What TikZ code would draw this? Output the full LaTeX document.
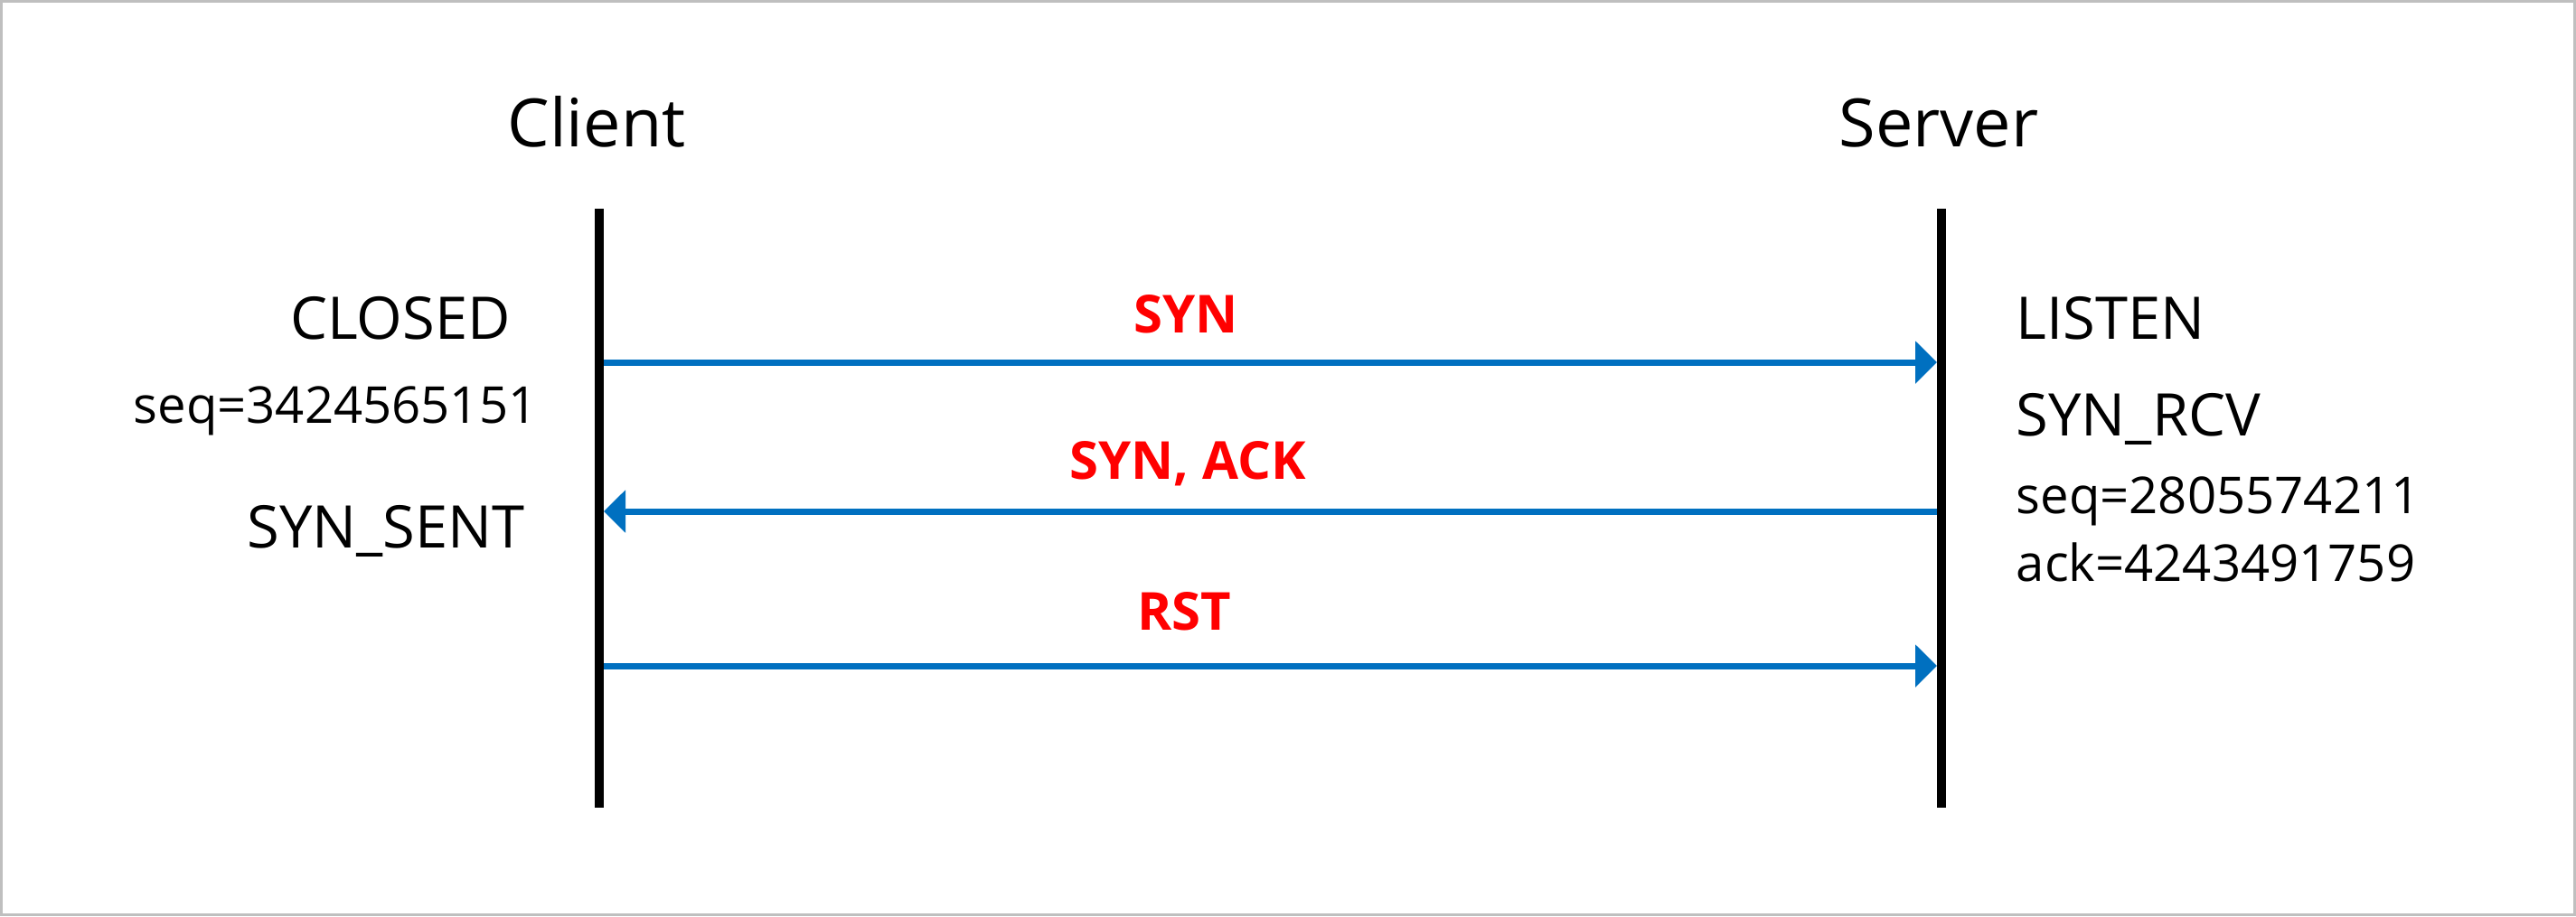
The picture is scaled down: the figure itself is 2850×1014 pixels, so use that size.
\documentclass[tikz,border=0pt]{standalone}
\usepackage{fontspec}
\setmainfont{Open Sans}
\usepackage{tikz}
\usetikzlibrary{calc, positioning}
\usetikzlibrary{arrows.meta}
\definecolor{msgblue}{HTML}{0070C0}
\definecolor{msgred}{HTML}{FF0000}
\definecolor{framegray}{HTML}{BFBFBF}
\tikzset{>={Triangle[length=0.24cm,width=0.46cm]}}
\tikzset{
	lifeline/.style={line width=0.1cm, black},
	msg/.style={->, line width=0.07cm, msgblue},
	host/.style={inner sep=0pt, anchor=base, font=\fontsize{21}{25}\selectfont},
	state/.style={inner sep=0pt, font=\fontsize{18.5}{22}\selectfont},
	seqno/.style={inner sep=0pt, font=\fontsize{16}{19}\selectfont},
	msglabel/.style={inner sep=0pt, anchor=base, text=msgred, font=\bfseries\fontsize{16.5}{20}\selectfont}
}

\begin{document}
\begin{tikzpicture}[x=0.01cm, y=-0.01cm]
	\useasboundingbox (0,0) rectangle (2850,1014);
	\draw [framegray, line width=0.03cm] (1.5,1.5) rectangle (2848.5,1012.5);

	% hosts and lifelines
	\node [host] (client) at (660,162) {Client};
	\node [host] (server) at (2145,162) {Server};
	\coordinate (clienttop) at (663,231);
	\coordinate (clientbot) at (663,894);
	\coordinate (servertop) at (2148,231);
	\coordinate (serverbot) at (2148,894);
	\draw [lifeline] (clienttop) -- (clientbot);
	\draw [lifeline] (servertop) -- (serverbot);

	% client side
	\node [state, anchor=base] (closed) at (443,375) {CLOSED};
	\node [seqno, anchor=base] (cseq) at (371,468) {seq=3424565151};
	\node [state, anchor=base] (synsent) at (427,606) {SYN\_SENT};

	% server side
	\node [state, anchor=base west] (listen) at (2230,375) {LISTEN};
	\node [state, anchor=base west] (synrcv) at (2230,482) {SYN\_RCV};
	\node [seqno, anchor=base west] (sseq) at (2230,568) {seq=2805574211};
	\node [seqno, anchor=base west] (sack) at (2230,643) {ack=4243491759};

	% messages
	\coordinate (c1) at (668,401);
	\coordinate (s1) at (2143,401);
	\coordinate (c2) at (668,566);
	\coordinate (s2) at (2143,566);
	\coordinate (c3) at (668,737);
	\coordinate (s3) at (2143,737);
	\draw [msg] (c1) -- (s1);
	\draw [msg] (s2) -- (c2);
	\draw [msg] (c3) -- (s3);
	\node [msglabel] (syn) at (1312,368) {SYN};
	\node [msglabel] (synack) at (1314,530) {SYN, ACK};
	\node [msglabel] (rst) at (1310,697) {RST};
\end{tikzpicture}
\end{document}
